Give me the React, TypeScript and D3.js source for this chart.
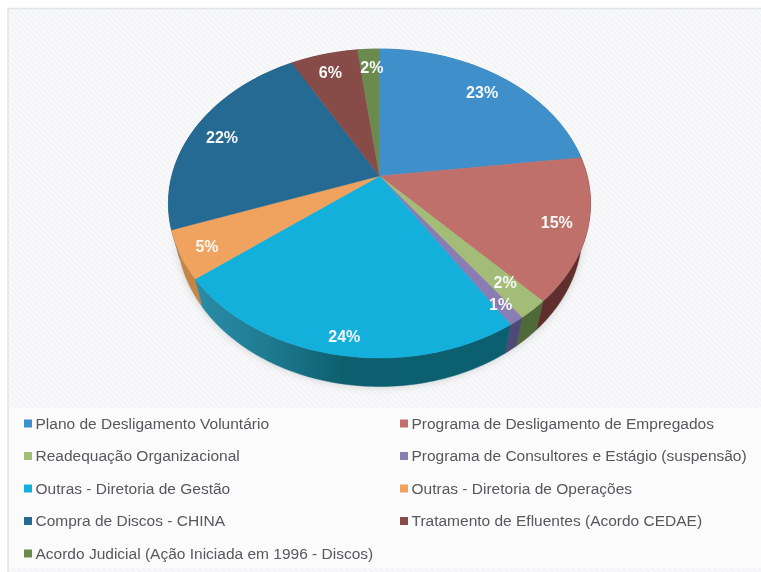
import React, { useEffect, useRef } from 'react';
import * as d3 from 'd3';

const categories = [
    'Plano de Desligamento Voluntário',
    'Programa de Desligamento de Empregados',
    'Readequação Organizacional',
    'Programa de Consultores e Estágio (suspensão)',
    'Outras - Diretoria de Gestão',
    'Outras - Diretoria de Operações',
    'Compra de Discos - CHINA',
    'Tratamento de Efluentes (Acordo CEDAE)',
    'Acordo Judicial (Ação Iniciada em 1996 - Discos)',
];
const values = [23, 15, 2, 1, 23.5, 5, 22.4, 6.1, 2.0];
const percentLabels = ['23%', '15%', '2%', '1%', '24%', '5%', '22%', '6%', '2%'];
const topColors = ['#3f8fcb', '#c0706a', '#a3bd78', '#8a7db4', '#14b0dc', '#f0a35f', '#256a92', '#874c48', '#6a8a4e'];
const wallColors = ['#2c6a98', '#5e2f2c', '#4f6a38', '#4d4a78', '#0c5f70', '#c68545', '#1b4d6b', '#5e3431', '#4a6136'];
// how far along the radius each percent label sits, and its turn off the mid angle (degrees)
const labelRadius = [0.83, 0.86, 0.83, 0.9, 0.91, 0.88, 0.84, 0.84, 0.84];
const labelTurn = [0, 0, -0.7, 0, -0.9, -0.6, -1.6, -0.6, 0.7];

const W = 761;
const H = 572;

const App = () => {
    const chartRef = useRef<SVGSVGElement>(null);

    useEffect(() => {
        const svg = d3.select(chartRef.current);
        svg.selectAll('*').remove();

        const cx = 379.5, cy = 176;
        const rx = 207.7, ry = 149.6, tilt = 0.178;
        const depth = 28.5, shrink = 0.96;

        // perspective projection of a point on the unit disc
        const project = (angle: number, r = 1): [number, number] => {
            const u = Math.sin(angle) * r;
            const v = -Math.cos(angle) * r;
            const w = 1 - tilt * v;
            return [cx + (rx * u) / w, cy + (ry * v) / w];
        };
        const lower = ([x, y]: [number, number]): [number, number] => [cx + (x - cx) * shrink, y + depth];

        const arcPoints = (a0: number, a1: number) => {
            const n = Math.max(2, Math.ceil((a1 - a0) / 0.02));
            return d3.range(n + 1).map(i => project(a0 + ((a1 - a0) * i) / n));
        };

        const line = d3.line();
        const pie = d3.pie<number>().sort(null);
        const slices = pie(values);
        const color = d3.scaleOrdinal<number, string>().domain(d3.range(values.length)).range(topColors);
        const wall = d3.scaleOrdinal<number, string>().domain(d3.range(values.length)).range(wallColors);

        const defs = svg.append('defs');
        const hatch = defs.append('pattern')
            .attr('id', 'hatch')
            .attr('width', 4).attr('height', 4)
            .attr('patternUnits', 'userSpaceOnUse')
            .attr('patternTransform', 'rotate(45)');
        hatch.append('rect').attr('width', 4).attr('height', 4).attr('fill', '#f9f9fa');
        hatch.append('rect').attr('width', 4).attr('height', 2).attr('fill', '#f3f4f5');

        const blur = defs.append('filter').attr('id', 'soft')
            .attr('x', '-10%').attr('y', '-10%').attr('width', '120%').attr('height', '120%');
        blur.append('feGaussianBlur').attr('stdDeviation', 4);

        const textBlur = defs.append('filter').attr('id', 'textSoft');
        textBlur.append('feGaussianBlur').attr('stdDeviation', 0.45);

        const tealGrad = defs.append('linearGradient').attr('id', 'tealWall')
            .attr('gradientUnits', 'userSpaceOnUse')
            .attr('x1', 200).attr('x2', 520).attr('y1', 0).attr('y2', 0);
        tealGrad.append('stop').attr('offset', 0).attr('stop-color', '#2a8ba6');
        tealGrad.append('stop').attr('offset', 0.2).attr('stop-color', '#1f7c92');
        tealGrad.append('stop').attr('offset', 0.45).attr('stop-color', '#0d5f6e');
        tealGrad.append('stop').attr('offset', 1).attr('stop-color', '#0b5f70');

        // background, its right and bottom edges run off the page
        svg.append('rect').attr('width', W).attr('height', H).attr('fill', '#ffffff');
        svg.append('rect')
            .attr('x', 8).attr('y', 8.5).attr('width', W).attr('height', H)
            .attr('fill', 'url(#hatch)')
            .attr('stroke', '#e0e3e7').attr('stroke-width', 1.5);
        svg.append('rect')
            .attr('x', 9).attr('y', 408).attr('width', W - 9).attr('height', 160)
            .attr('fill', '#fbfbfc');

        // soft shadow under the pie
        const rimLow = arcPoints(0, 2 * Math.PI).map(lower);
        svg.append('path')
            .attr('d', line(rimLow) + 'Z')
            .attr('fill', '#5b6670')
            .attr('opacity', 0.3)
            .attr('filter', 'url(#soft)');

        // side wall, back slices first
        const order = d3.range(slices.length).sort(
            (a, b) => -Math.cos((slices[a].startAngle + slices[a].endAngle) / 2)
                + Math.cos((slices[b].startAngle + slices[b].endAngle) / 2));
        order.forEach(i => {
            const s = slices[i];
            const rim = arcPoints(s.startAngle, s.endAngle);
            svg.append('path')
                .attr('d', line([...rim, ...rim.map(lower).reverse()]) + 'Z')
                .attr('fill', i === 4 ? 'url(#tealWall)' : wall(i))
                .attr('stroke', i === 4 ? 'url(#tealWall)' : wall(i))
                .attr('stroke-width', 0.5);
        });

        // top faces
        slices.forEach((s, i) => {
            const rim = arcPoints(s.startAngle, s.endAngle);
            svg.append('path')
                .attr('d', line([[cx, cy], ...rim]) + 'Z')
                .attr('fill', color(i))
                .attr('stroke', color(i))
                .attr('stroke-width', 0.4);
        });

        // percent labels
        slices.forEach((s, i) => {
            const mid = (s.startAngle + s.endAngle) / 2 + (labelTurn[i] * Math.PI) / 180;
            const [x, y] = project(mid, labelRadius[i]);
            svg.append('text')
                .attr('x', x).attr('y', y)
                .attr('dy', '0.36em')
                .attr('text-anchor', 'middle')
                .attr('font-family', 'Liberation Sans, Arial, sans-serif')
                .attr('font-size', 16)
                .attr('font-weight', 'bold')
                .attr('fill', '#f6f8f8')
                .attr('filter', 'url(#textSoft)')
                .text(percentLabels[i]);
        });

        // legend, two columns filled row by row
        const rowCount = Math.ceil(categories.length / 2);
        const rowY = d3.scalePoint<number>().domain(d3.range(rowCount)).range([423.5, 553.5]);
        const colX = d3.scalePoint<number>().domain([0, 1]).range([24, 400]);
        const legend = svg.append('g');
        categories.forEach((name, i) => {
            const g = legend.append('g')
                .attr('transform', `translate(${colX(i % 2)},${rowY(Math.floor(i / 2))})`);
            g.append('rect')
                .attr('y', -4).attr('width', 8).attr('height', 8)
                .attr('fill', color(i));
            g.append('text')
                .attr('x', 11.5)
                .attr('dy', '0.34em')
                .attr('font-family', 'Liberation Sans, Arial, sans-serif')
                .attr('font-size', 15.5)
                .attr('fill', '#55585c')
                .attr('filter', 'url(#textSoft)')
                .text(name);
        });
    }, []);

    return (
        <svg
            ref={chartRef}
            width={W}
            height={H}
            style={{ position: 'fixed', left: 0, top: 0, display: 'block' }}
        />
    );
};

export default App;
